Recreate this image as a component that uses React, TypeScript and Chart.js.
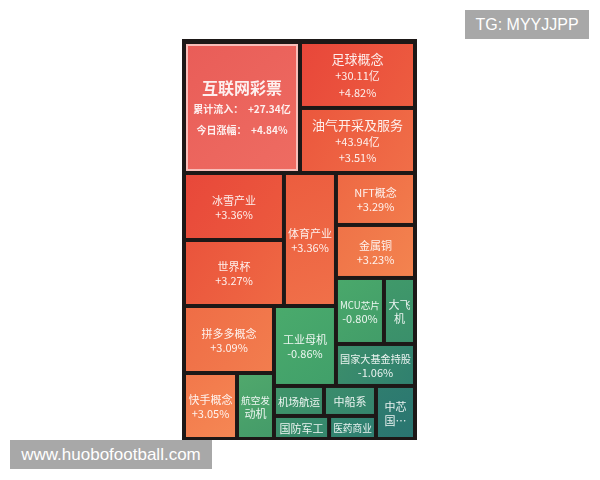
import React, { useEffect, useRef } from "react";
import { Chart, registerables } from "chart.js";

Chart.register(...registerables);

// ---- data ----
const SECTOR_NAMES = [
  "互联网彩票", "足球概念", "油气开采及服务", "冰雪产业", "世界杯", "体育产业",
  "NFT概念", "金属铜", "MCU芯片", "大飞\n机", "国家大基金持股",
  "机场航运", "中船系", "国防军工", "医药商业", "中芯\n国…",
  "拼多多概念", "快手概念", "航空发\n动机", "工业母机",
];
// relative block size
const SECTOR_WEIGHTS = [
  152.0, 75.9, 74.8, 67.0, 66.0, 69.2,
  41.1, 41.9, 31.7, 20.5, 33.2,
  15.0, 15.6, 12.7, 10.8, 20.7,
  60.3, 35.0, 24.4, 49.6,
];
// today's change, % (null = not shown)
const SECTOR_CHANGE: (number | null)[] = [
  4.84, 4.82, 3.51, 3.36, 3.27, 3.36,
  3.29, 3.23, -0.80, null, -1.06,
  null, null, null, null, null,
  3.09, 3.05, null, -0.86,
];
// cumulative inflow, 亿 (null = not shown)
const SECTOR_INFLOW: (number | null)[] = [
  27.34, 30.11, 43.94, null, null, null,
  null, null, null, null, null,
  null, null, null, null, null,
  null, null, null, null,
];
const HIGHLIGHT_INDEX = 0;
const INFLOW_LABEL = "累计流入：";
const CHANGE_LABEL = "今日涨幅：";

// nesting of the blocks: h = side by side, v = stacked, pin = pinwheel (UL, R, BR, BL, centre)
type Node = number | [string, ...Node[]];
const LAYOUT: Node = ["v",
  ["h", 0, ["v", 1, 2]],
  ["pin",
    ["h", ["v", 3, 4], 5],
    ["v", 6, 7, ["h", 8, 9], 10],
    ["h", ["v", ["h", 11, 12], ["h", 13, 14]], 15],
    ["v", 16, ["h", 17, 18]],
    19,
  ],
];

// ---- styles ----
const FILL_FROM = [
  "#e95d58", "#e8473a", "#eb573d", "#e8483a", "#ea543c", "#ec5d3f",
  "#ee6944", "#ef7348", "#4aa86b", "#40996a", "#3c8e6b",
  "#3f946a", "#3a8c6c", "#3b8f6b", "#34866f", "#2f7d6f",
  "#ef6d46", "#f2784b", "#50a86c", "#4aaa6c",
];
const FILL_TO = [
  "#ee6c62", "#ed5d40", "#f06e48", "#ec5a3e", "#ef6944", "#f07049",
  "#f27b4c", "#f3834f", "#429d69", "#3a8f6b", "#30806f",
  "#3a8c6a", "#35856d", "#36886d", "#2f7f71", "#2a7571",
  "#f27d4e", "#f58754", "#449b69", "#41a06a",
];
const BG = "#1d1817";
const FONT = "'Noto Sans CJK SC', 'Noto Sans', sans-serif";
const TEXT = "rgba(255,255,255,0.9)";

function weightOf(n: Node): number {
  if (typeof n === "number") return SECTOR_WEIGHTS[n];
  return (n.slice(1) as Node[]).reduce((s, k) => s + weightOf(k), 0);
}

type Rect = { x: number; y: number; w: number; h: number };

function layoutNode(n: Node, x: number, y: number, w: number, h: number, out: Rect[]) {
  if (typeof n === "number") { out[n] = { x, y, w, h }; return; }
  const kind = n[0];
  const kids = n.slice(1) as Node[];
  const wts = kids.map(weightOf);
  const tot = wts.reduce((a, b) => a + b, 0);
  if (kind === "h" || kind === "v") {
    let off = 0;
    kids.forEach((k, i) => {
      const f = wts[i] / tot;
      if (kind === "h") { layoutNode(k, x + off, y, w * f, h, out); off += w * f; }
      else { layoutNode(k, x, y + off, w, h * f, out); off += h * f; }
    });
    return;
  }
  // pinwheel
  const s = (w * h) / tot;
  const [aUL, aR, aBR, aBL] = wts.map((v) => v * s);
  let best = { a: w / 2, b: h / 2, c: h / 2, d: w / 4 };
  let bestErr = Infinity;
  const N = 6000;
  for (let i = 1; i < N; i++) {
    const a = (w * i) / N;
    const b = aUL / a;
    if (b >= h) continue;
    const c = aR / (w - a);
    if (c >= h || c <= b) continue;
    const d = aBL / (h - b);
    if (d >= a) continue;
    const err = Math.abs((w - d) * (h - c) - aBR);
    if (err < bestErr) { bestErr = err; best = { a, b, c, d }; }
  }
  const { a, b, c, d } = best;
  layoutNode(kids[0], x, y, a, b, out);
  layoutNode(kids[1], x + a, y, w - a, c, out);
  layoutNode(kids[2], x + d, y + c, w - d, h - c, out);
  layoutNode(kids[3], x, y + b, d, h - b, out);
  layoutNode(kids[4], x + d, y + b, a - d, c - b, out);
}

const fmtPct = (v: number) => (v >= 0 ? "+" : "") + v.toFixed(2) + "%";
const fmtInflow = (v: number) => (v >= 0 ? "+" : "") + v.toFixed(2) + "亿";

const treemapPlugin = {
  id: "treemapCells",
  beforeDatasetsDraw(chart: any) {
    const { ctx, chartArea, scales } = chart;
    const xs = scales.x, ys = scales.y;
    const W = chartArea.right - chartArea.left;
    const H = chartArea.bottom - chartArea.top;
    const rects: Rect[] = [];
    layoutNode(LAYOUT, 0, 0, W, H, rects);
    ctx.save();
    // dark frame
    ctx.fillStyle = BG;
    ctx.fillRect(chartArea.left - 2, chartArea.top - 3, W + 4, H + 4);
    const gap = 2;
    rects.forEach((r, i) => {
      const x0 = xs.getPixelForValue(r.x / W) + gap;
      const x1 = xs.getPixelForValue((r.x + r.w) / W) - gap;
      const y0 = ys.getPixelForValue(r.y / H) + gap;
      const y1 = ys.getPixelForValue((r.y + r.h) / H) - gap;
      const g = ctx.createLinearGradient(x0, y0, x1, y1);
      g.addColorStop(0, FILL_FROM[i]);
      g.addColorStop(1, FILL_TO[i]);
      ctx.fillStyle = g;
      ctx.fillRect(x0, y0, x1 - x0, y1 - y0);
      if (i === HIGHLIGHT_INDEX) {
        ctx.strokeStyle = "rgba(250,200,195,0.9)";
        ctx.lineWidth = 2;
        ctx.strokeRect(x0 + 1, y0 + 1, x1 - x0 - 2, y1 - y0 - 2);
      }
      // labels
      const cw = x1 - x0;
      const cx = (x0 + x1) / 2, cy = (y0 + y1) / 2;
      const lines: { t: string; size: number; bold?: boolean; lh: number }[] = [];
      if (i === HIGHLIGHT_INDEX) {
        lines.push({ t: SECTOR_NAMES[i], size: 16, bold: true, lh: 23 });
        if (SECTOR_INFLOW[i] != null) lines.push({ t: INFLOW_LABEL + "  " + fmtInflow(SECTOR_INFLOW[i] as number), size: 10, bold: true, lh: 21 });
        if (SECTOR_CHANGE[i] != null) lines.push({ t: CHANGE_LABEL + "  " + fmtPct(SECTOR_CHANGE[i] as number), size: 10, bold: true, lh: 21 });
      } else {
        const big = SECTOR_INFLOW[i] != null;
        SECTOR_NAMES[i].split("\n").forEach((t) =>
          lines.push({ t, size: big ? 13 : 11, lh: big ? 17 : 14 })
        );
        if (big) lines.push({ t: fmtInflow(SECTOR_INFLOW[i] as number), size: 11, lh: 16.5 });
        if (SECTOR_CHANGE[i] != null) lines.push({ t: fmtPct(SECTOR_CHANGE[i] as number), size: 11, lh: big ? 16.5 : 14 });
      }
      const total = lines.reduce((s, l) => s + l.lh, 0);
      let yy = cy - total / 2 + 1;
      ctx.fillStyle = TEXT;
      ctx.textAlign = "center";
      ctx.textBaseline = "middle";
      lines.forEach((l) => {
        let size = l.size;
        const mk = (sz: number) => `${l.bold ? "bold " : ""}${sz}px ${FONT}`;
        ctx.font = mk(size);
        const avail = cw - 4;
        const tw = ctx.measureText(l.t).width;
        if (tw > avail) { size = Math.max(8, (size * avail) / tw); ctx.font = mk(size); }
        ctx.fillText(l.t, cx, yy + l.lh / 2);
        yy += l.lh;
      });
    });
    ctx.restore();
  },
};

export default function App() {
  const ref = useRef<HTMLCanvasElement | null>(null);
  useEffect(() => {
    document.body.style.margin = "0";
    const canvas = ref.current;
    if (!canvas) return;
    const chart = new Chart(canvas, {
      type: "scatter",
      data: { datasets: [{ data: [] }] },
      options: {
        animation: false,
        responsive: false,
        layout: { padding: { left: 184, right: 185, top: 42, bottom: 41 } },
        scales: {
          x: { type: "linear", min: 0, max: 1, display: false },
          y: { type: "linear", min: 0, max: 1, reverse: true, display: false },
        },
        plugins: { legend: { display: false }, tooltip: { enabled: false } },
      },
      plugins: [treemapPlugin],
    });
    return () => chart.destroy();
  }, []);

  const tag: React.CSSProperties = {
    position: "absolute",
    background: "#a8a8a8",
    color: "#ffffff",
    fontFamily: "'Liberation Sans', Arial, sans-serif",
    textAlign: "center",
  };
  return (
    <div style={{ position: "relative", width: 600, height: 480, background: "#ffffff" }}>
      <canvas ref={ref} width={600} height={480} style={{ display: "block" }} />
      <div style={{ ...tag, left: 465, top: 10, width: 124, height: 29, lineHeight: "29px", fontSize: 16 }}>TG: MYYJJPP</div>
      <div style={{ ...tag, left: 10, top: 440, width: 202, height: 29, lineHeight: "29px", fontSize: 17 }}>www.huobofootball.com</div>
    </div>
  );
}
